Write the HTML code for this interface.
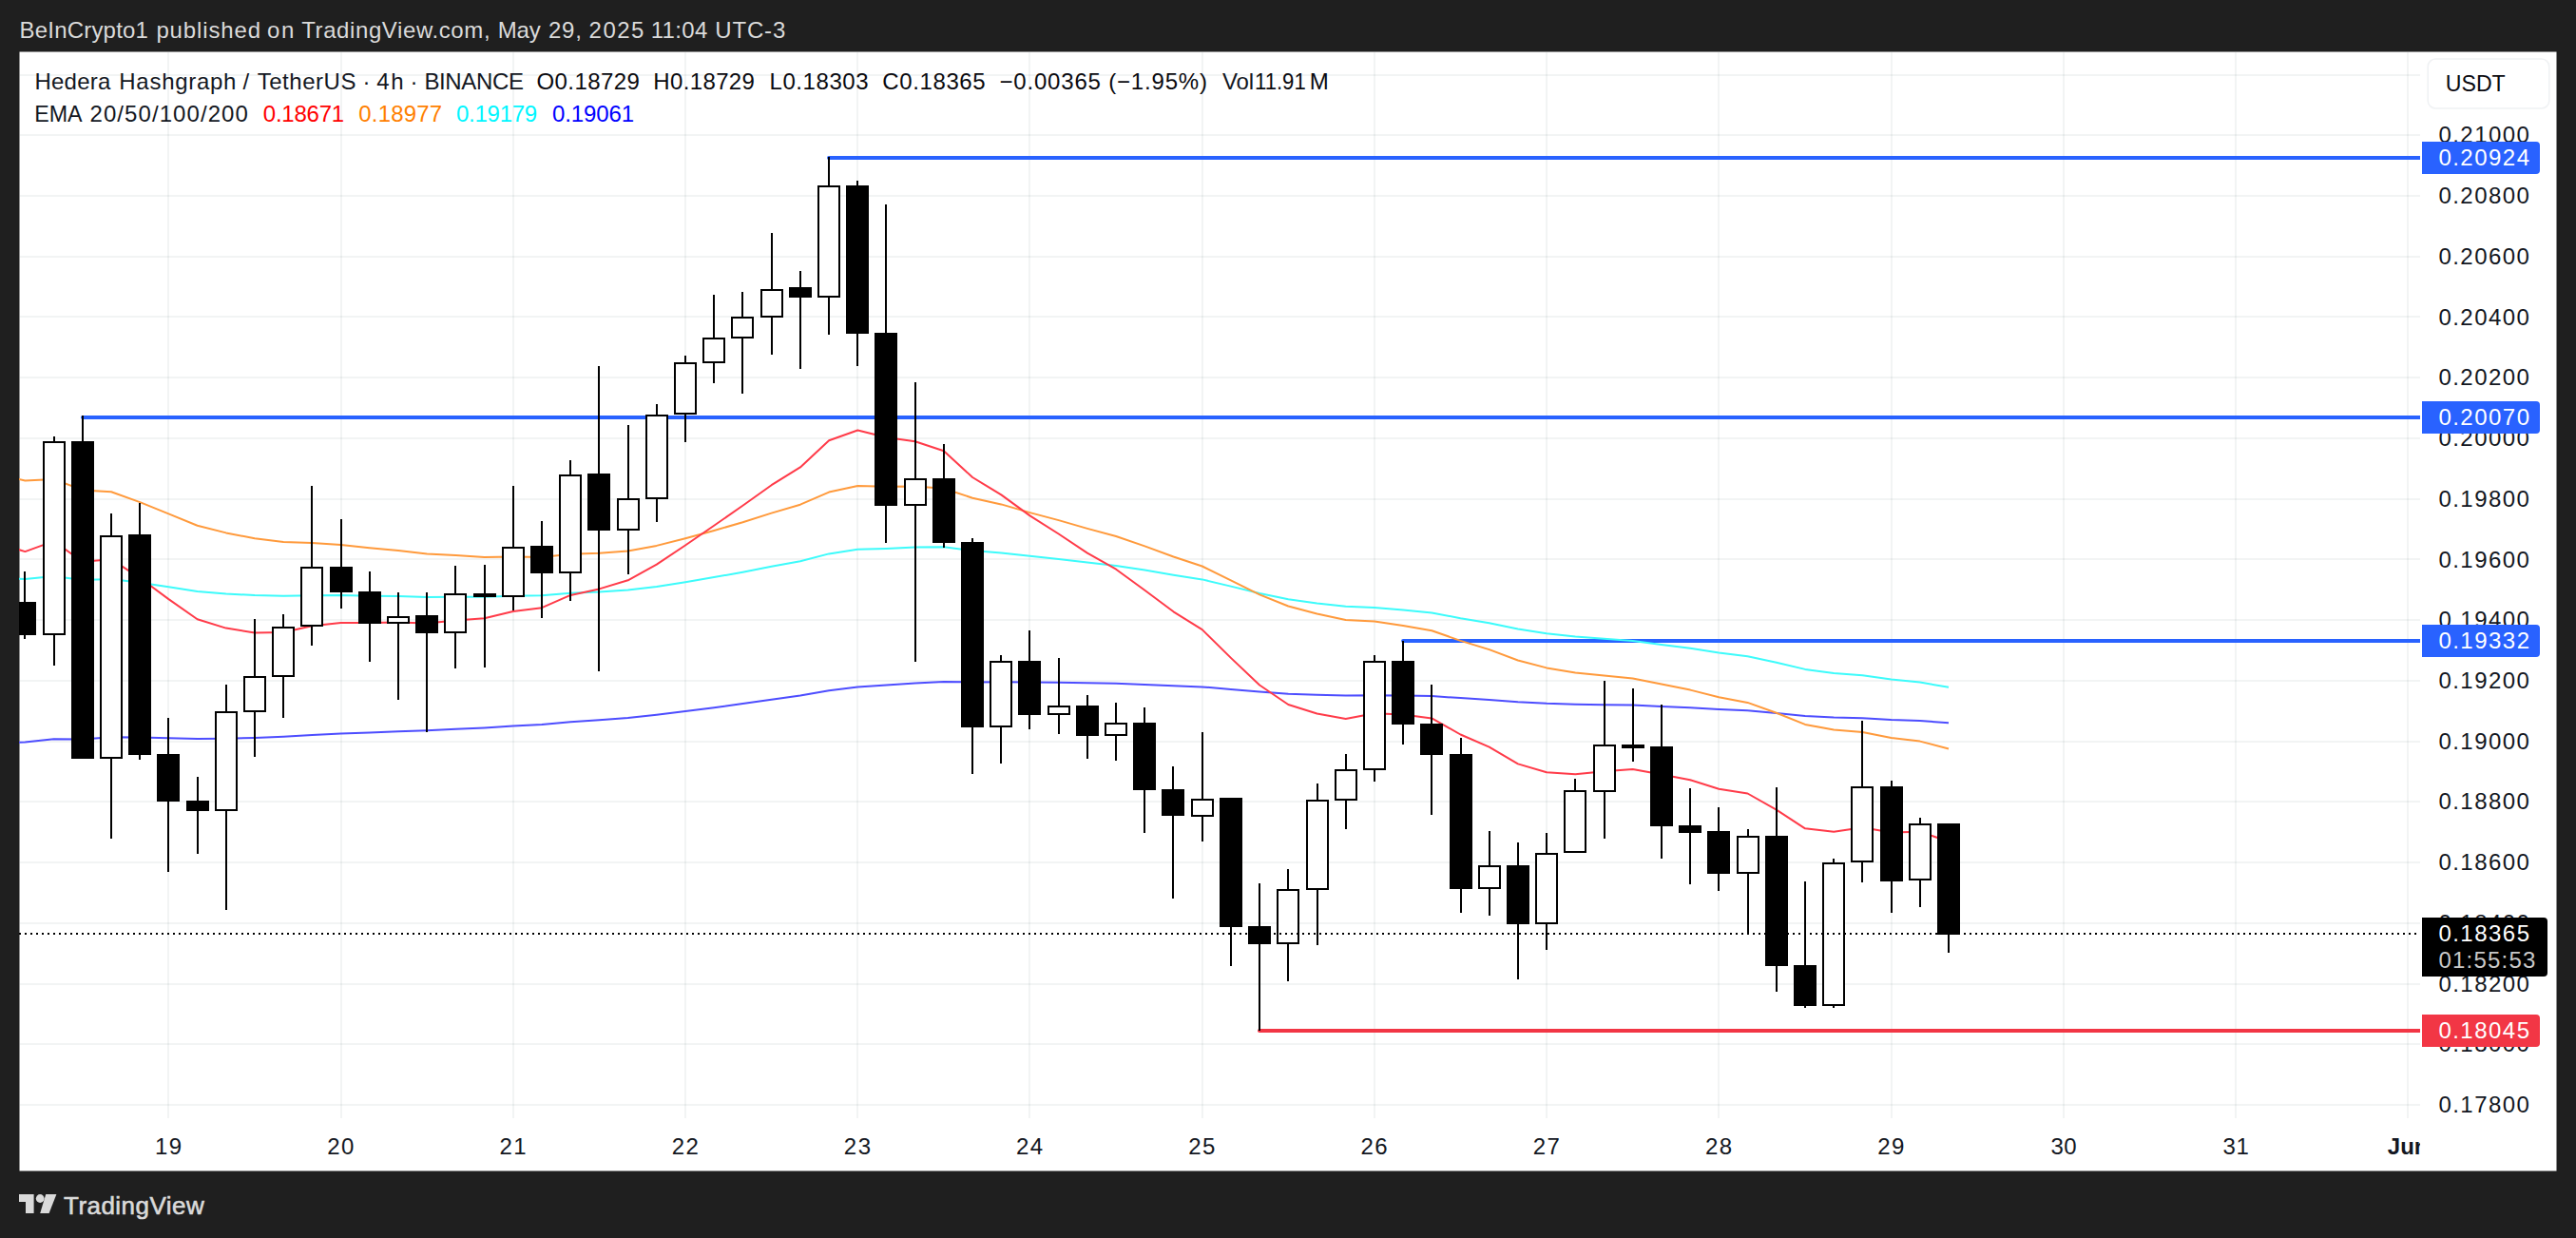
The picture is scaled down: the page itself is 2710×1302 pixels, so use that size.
<!DOCTYPE html><html><head><meta charset="utf-8"><title>HBARUSDT chart</title>
<style>html,body{margin:0;padding:0;background:#1f1f1f}body{width:2710px;height:1302px;overflow:hidden;position:relative}svg{position:absolute;left:0;top:0;display:block}text{font-family:'Liberation Sans', sans-serif;white-space:pre}</style></head><body>
<svg width="2710" height="1302" viewBox="0 0 2710 1302">
<defs><clipPath id="pane"><rect x="20" y="54" width="2526" height="1122"/></clipPath><clipPath id="taxis"><rect x="20" y="1176" width="2526" height="55"/></clipPath></defs>
<rect x="0" y="0" width="2710" height="1302" fill="#1f1f1f"/>
<rect x="20.5" y="54.5" width="2669" height="1177" fill="#ffffff"/>
<g fill="#1e3c3c" fill-opacity="0.06"><rect x="21" y="78" width="2525" height="2"/><rect x="21" y="141" width="2525" height="2"/><rect x="21" y="205" width="2525" height="2"/><rect x="21" y="269" width="2525" height="2"/><rect x="21" y="332" width="2525" height="2"/><rect x="21" y="396" width="2525" height="2"/><rect x="21" y="460" width="2525" height="2"/><rect x="21" y="524" width="2525" height="2"/><rect x="21" y="587" width="2525" height="2"/><rect x="21" y="651" width="2525" height="2"/><rect x="21" y="715" width="2525" height="2"/><rect x="21" y="779" width="2525" height="2"/><rect x="21" y="842" width="2525" height="2"/><rect x="21" y="906" width="2525" height="2"/><rect x="21" y="970" width="2525" height="2"/><rect x="21" y="1034" width="2525" height="2"/><rect x="21" y="1097" width="2525" height="2"/><rect x="21" y="1161" width="2525" height="2"/><rect x="176" y="55" width="2" height="1121"/><rect x="358" y="55" width="2" height="1121"/><rect x="539" y="55" width="2" height="1121"/><rect x="720" y="55" width="2" height="1121"/><rect x="901" y="55" width="2" height="1121"/><rect x="1082" y="55" width="2" height="1121"/><rect x="1264" y="55" width="2" height="1121"/><rect x="1445" y="55" width="2" height="1121"/><rect x="1626" y="55" width="2" height="1121"/><rect x="1807" y="55" width="2" height="1121"/><rect x="1989" y="55" width="2" height="1121"/><rect x="2170" y="55" width="2" height="1121"/><rect x="2351" y="55" width="2" height="1121"/><rect x="2532" y="55" width="2" height="1121"/></g>
<g clip-path="url(#pane)" fill="none" stroke-width="2" stroke-linejoin="round">
<line x1="872.0" y1="166" x2="2546" y2="166" stroke="#2962ff" stroke-width="4" stroke-linecap="round"/>
<line x1="87.0" y1="439" x2="2546" y2="439" stroke="#2962ff" stroke-width="4" stroke-linecap="round"/>
<line x1="1476.1" y1="674" x2="2546" y2="674" stroke="#2962ff" stroke-width="4" stroke-linecap="round"/>
<line x1="1325.0" y1="1084" x2="2546" y2="1084" stroke="#f23645" stroke-width="4" stroke-linecap="round"/>
<polyline stroke="#4d4dff" points="-3.8,781.5 26.4,780.4 56.6,777.3 86.8,777.5 117.0,775.3 147.2,775.5 177.4,776.2 207.6,776.9 237.8,776.7 268.0,776.0 298.2,774.8 328.4,773.1 358.6,771.6 388.8,770.4 419.0,769.2 449.2,768.2 479.4,766.7 509.6,765.4 539.8,763.5 570.0,761.9 600.2,759.3 630.4,757.3 660.6,754.9 690.8,751.8 721.0,748.1 751.2,744.2 781.4,740.1 811.6,735.8 841.9,731.5 872.1,726.2 902.3,722.5 932.5,720.6 962.7,718.4 992.9,716.9 1023.1,717.4 1053.3,717.2 1083.5,717.5 1113.7,717.8 1143.9,718.3 1174.1,718.8 1204.3,719.9 1234.5,721.2 1264.7,722.4 1294.9,724.9 1325.1,727.6 1355.3,729.7 1385.5,730.8 1415.7,731.6 1445.9,731.2 1476.1,731.5 1506.3,732.1 1536.5,734.1 1566.7,735.9 1596.9,738.2 1627.1,739.8 1657.3,740.7 1687.5,741.2 1717.7,741.6 1747.9,742.9 1778.1,744.2 1808.3,745.9 1838.5,747.3 1868.8,749.9 1899.0,753.0 1929.2,754.5 1959.4,755.2 1989.6,757.0 2019.8,758.0 2050.0,760.3"/>
<polyline stroke="#3dfbfb" points="-3.8,607.8 26.4,609.0 56.6,606.1 86.8,609.9 117.0,609.0 147.2,612.7 177.4,617.2 207.6,621.9 237.8,624.4 268.0,626.1 298.2,626.8 328.4,626.2 358.6,626.1 388.8,626.7 419.0,627.1 449.2,627.9 479.4,627.8 509.6,627.8 539.8,626.8 570.0,626.3 600.2,623.8 630.4,622.5 660.6,620.5 690.8,616.9 721.0,612.2 751.2,607.1 781.4,601.7 811.6,595.8 841.9,590.2 872.1,582.4 902.3,577.8 932.5,576.9 962.7,575.4 992.9,575.3 1023.1,579.1 1053.3,581.4 1083.5,584.8 1113.7,587.9 1143.9,591.6 1174.1,594.9 1204.3,599.6 1234.5,604.7 1264.7,609.4 1294.9,616.6 1325.1,624.0 1355.3,630.2 1385.5,634.4 1415.7,637.8 1445.9,639.0 1476.1,641.4 1506.3,644.4 1536.5,650.2 1566.7,655.3 1596.9,661.6 1627.1,666.3 1657.3,669.5 1687.5,671.8 1717.7,674.1 1747.9,677.9 1778.1,681.8 1808.3,686.5 1838.5,690.3 1868.8,696.8 1899.0,703.9 1929.2,707.9 1959.4,710.3 1989.6,714.6 2019.8,717.6 2050.0,722.8"/>
<polyline stroke="#ff9a3c" points="-3.8,498.9 26.4,505.5 56.6,503.9 86.8,515.4 117.0,517.3 147.2,528.1 177.4,540.4 207.6,552.7 237.8,560.4 268.0,566.3 298.2,569.9 328.4,571.0 358.6,573.0 388.8,576.3 419.0,579.1 449.2,582.5 479.4,584.1 509.6,585.9 539.8,585.4 570.0,586.1 600.2,582.7 630.4,581.7 660.6,579.5 690.8,573.9 721.0,566.3 751.2,558.0 781.4,549.2 811.6,539.6 841.9,530.7 872.1,517.6 902.3,511.0 932.5,511.8 962.7,511.5 992.9,513.8 1023.1,523.7 1053.3,530.4 1083.5,539.1 1113.7,547.1 1143.9,555.9 1174.1,564.0 1204.3,574.4 1234.5,585.5 1264.7,595.5 1294.9,610.4 1325.1,625.4 1355.3,637.5 1385.5,645.5 1415.7,651.9 1445.9,653.6 1476.1,657.9 1506.3,663.2 1536.5,673.9 1566.7,683.1 1596.9,694.5 1627.1,702.4 1657.3,707.5 1687.5,710.4 1717.7,713.4 1747.9,719.5 1778.1,725.6 1808.3,733.2 1838.5,738.9 1868.8,749.8 1899.0,761.9 1929.2,767.5 1959.4,769.9 1989.6,776.0 2019.8,779.6 2050.0,787.5"/>
<polyline stroke="#ff3b49" points="-3.8,570.9 26.4,580.1 56.6,569.1 86.8,590.8 117.0,588.2 147.2,607.8 177.4,630.1 207.6,651.3 237.8,660.6 268.0,665.4 298.2,664.9 328.4,658.3 358.6,655.0 388.8,655.1 419.0,654.4 449.2,655.5 479.4,652.5 509.6,650.2 539.8,643.0 570.0,639.2 600.2,625.9 630.4,619.4 660.6,610.3 690.8,593.7 721.0,573.5 751.2,552.7 781.4,531.8 811.6,510.2 841.9,491.4 872.1,463.2 902.3,452.5 932.5,460.0 962.7,464.2 992.9,474.3 1023.1,502.0 1053.3,520.4 1083.5,542.4 1113.7,561.5 1143.9,581.7 1174.1,598.7 1204.3,620.8 1234.5,643.3 1264.7,662.1 1294.9,691.9 1325.1,720.5 1355.3,741.0 1385.5,750.5 1415.7,756.1 1445.9,750.3 1476.1,751.4 1506.3,755.4 1536.5,772.5 1566.7,785.6 1596.9,803.4 1627.1,812.3 1657.3,814.2 1687.5,811.2 1717.7,808.9 1747.9,814.6 1778.1,820.3 1808.3,829.7 1838.5,834.5 1868.8,851.7 1899.0,871.3 1929.2,874.7 1959.4,870.2 1989.6,875.6 2019.8,874.7 2050.0,885.0"/>
</g>
<g clip-path="url(#pane)">
<g fill="#000"><rect x="25" y="601" width="2" height="71"/><rect x="56" y="459" width="2" height="241"/><rect x="86" y="437" width="2" height="361"/><rect x="116" y="540" width="2" height="342"/><rect x="146" y="529" width="2" height="270"/><rect x="176" y="755" width="2" height="162"/><rect x="207" y="817" width="2" height="81"/><rect x="237" y="720" width="2" height="237"/><rect x="267" y="651" width="2" height="145"/><rect x="297" y="646" width="2" height="109"/><rect x="327" y="511" width="2" height="168"/><rect x="358" y="546" width="2" height="94"/><rect x="388" y="601" width="2" height="95"/><rect x="418" y="623" width="2" height="113"/><rect x="448" y="623" width="2" height="147"/><rect x="478" y="595" width="2" height="108"/><rect x="509" y="594" width="2" height="108"/><rect x="539" y="511" width="2" height="131"/><rect x="569" y="548" width="2" height="102"/><rect x="599" y="484" width="2" height="148"/><rect x="629" y="385" width="2" height="321"/><rect x="660" y="447" width="2" height="157"/><rect x="690" y="425" width="2" height="124"/><rect x="720" y="374" width="2" height="91"/><rect x="750" y="310" width="2" height="93"/><rect x="780" y="307" width="2" height="107"/><rect x="811" y="245" width="2" height="128"/><rect x="841" y="285" width="2" height="103"/><rect x="871" y="165" width="2" height="187"/><rect x="901" y="190" width="2" height="195"/><rect x="931" y="215" width="2" height="356"/><rect x="962" y="402" width="2" height="294"/><rect x="992" y="467" width="2" height="109"/><rect x="1022" y="566" width="2" height="248"/><rect x="1052" y="689" width="2" height="114"/><rect x="1082" y="663" width="2" height="104"/><rect x="1113" y="692" width="2" height="80"/><rect x="1143" y="731" width="2" height="67"/><rect x="1173" y="739" width="2" height="61"/><rect x="1203" y="744" width="2" height="132"/><rect x="1233" y="806" width="2" height="139"/><rect x="1264" y="770" width="2" height="115"/><rect x="1294" y="839" width="2" height="177"/><rect x="1324" y="929" width="2" height="155"/><rect x="1354" y="914" width="2" height="118"/><rect x="1385" y="824" width="2" height="170"/><rect x="1415" y="793" width="2" height="79"/><rect x="1445" y="689" width="2" height="133"/><rect x="1475" y="674" width="2" height="109"/><rect x="1505" y="720" width="2" height="137"/><rect x="1536" y="776" width="2" height="184"/><rect x="1566" y="874" width="2" height="89"/><rect x="1596" y="886" width="2" height="144"/><rect x="1626" y="876" width="2" height="123"/><rect x="1656" y="819" width="2" height="78"/><rect x="1687" y="716" width="2" height="166"/><rect x="1717" y="724" width="2" height="77"/><rect x="1747" y="741" width="2" height="162"/><rect x="1777" y="829" width="2" height="101"/><rect x="1807" y="849" width="2" height="88"/><rect x="1838" y="872" width="2" height="111"/><rect x="1868" y="828" width="2" height="215"/><rect x="1898" y="927" width="2" height="133"/><rect x="1928" y="903" width="2" height="157"/><rect x="1958" y="758" width="2" height="170"/><rect x="1989" y="821" width="2" height="139"/><rect x="2019" y="860" width="2" height="94"/><rect x="2049" y="866" width="2" height="136"/></g>
<g fill="#000"><rect x="14" y="633" width="24" height="35"/><rect x="75" y="464" width="24" height="334"/><rect x="135" y="562" width="24" height="232"/><rect x="165" y="793" width="24" height="50"/><rect x="196" y="842" width="24" height="11"/><rect x="347" y="596" width="24" height="27"/><rect x="377" y="622" width="24" height="34"/><rect x="437" y="647" width="24" height="19"/><rect x="498" y="624" width="24" height="4"/><rect x="558" y="574" width="24" height="29"/><rect x="618" y="498" width="24" height="60"/><rect x="830" y="302" width="24" height="11"/><rect x="890" y="195" width="24" height="156"/><rect x="920" y="350" width="24" height="182"/><rect x="981" y="503" width="24" height="68"/><rect x="1011" y="570" width="24" height="195"/><rect x="1071" y="695" width="24" height="57"/><rect x="1132" y="742" width="24" height="32"/><rect x="1192" y="760" width="24" height="71"/><rect x="1222" y="830" width="24" height="28"/><rect x="1283" y="839" width="24" height="136"/><rect x="1313" y="974" width="24" height="19"/><rect x="1464" y="695" width="24" height="67"/><rect x="1494" y="761" width="24" height="33"/><rect x="1525" y="793" width="24" height="142"/><rect x="1585" y="910" width="24" height="62"/><rect x="1706" y="783" width="24" height="4"/><rect x="1736" y="785" width="24" height="84"/><rect x="1766" y="868" width="24" height="8"/><rect x="1796" y="874" width="24" height="45"/><rect x="1857" y="879" width="24" height="137"/><rect x="1887" y="1015" width="24" height="43"/><rect x="1978" y="827" width="24" height="100"/><rect x="2038" y="866" width="24" height="117"/></g>
<g fill="#fff" stroke="#000" stroke-width="2"><rect x="46" y="465" width="22" height="202"/><rect x="106" y="564" width="22" height="233"/><rect x="227" y="749" width="22" height="103"/><rect x="257" y="712" width="22" height="36"/><rect x="287" y="660" width="22" height="51"/><rect x="317" y="597" width="22" height="61"/><rect x="408" y="649" width="22" height="6"/><rect x="468" y="625" width="22" height="40"/><rect x="529" y="576" width="22" height="51"/><rect x="589" y="500" width="22" height="102"/><rect x="650" y="525" width="22" height="32"/><rect x="680" y="437" width="22" height="87"/><rect x="710" y="382" width="22" height="53"/><rect x="740" y="356" width="22" height="25"/><rect x="770" y="334" width="22" height="21"/><rect x="801" y="305" width="22" height="28"/><rect x="861" y="196" width="22" height="116"/><rect x="952" y="504" width="22" height="27"/><rect x="1042" y="696" width="22" height="68"/><rect x="1103" y="743" width="22" height="8"/><rect x="1163" y="761" width="22" height="12"/><rect x="1254" y="841" width="22" height="17"/><rect x="1344" y="936" width="22" height="56"/><rect x="1375" y="842" width="22" height="93"/><rect x="1405" y="810" width="22" height="31"/><rect x="1435" y="696" width="22" height="113"/><rect x="1556" y="911" width="22" height="23"/><rect x="1616" y="898" width="22" height="73"/><rect x="1646" y="832" width="22" height="64"/><rect x="1677" y="784" width="22" height="48"/><rect x="1828" y="880" width="22" height="38"/><rect x="1918" y="908" width="22" height="149"/><rect x="1948" y="828" width="22" height="78"/><rect x="2009" y="867" width="22" height="58"/></g>
<line x1="20" y1="982" x2="2544" y2="982" stroke="#000" stroke-width="2" stroke-dasharray="2 4"/>
</g>
<text x="20.50" y="39.80" font-size="24" fill="#dadada" letter-spacing="0.204">BeInCrypto1</text>
<text x="164.40" y="39.80" font-size="24" fill="#dadada" letter-spacing="0.875">published</text>
<text x="281.00" y="39.80" font-size="24" fill="#dadada" letter-spacing="1.752">on</text>
<text x="317.20" y="39.80" font-size="24" fill="#dadada" letter-spacing="0.596">TradingView.com,</text>
<text x="523.70" y="39.80" font-size="24" fill="#dadada" letter-spacing="-0.170">May</text>
<text x="577.00" y="39.80" font-size="24" fill="#dadada" letter-spacing="0.752">29,</text>
<text x="619.60" y="39.80" font-size="24" fill="#dadada" letter-spacing="1.486">2025</text>
<text x="684.70" y="39.80" font-size="24" fill="#dadada" letter-spacing="0.318">11:04</text>
<text x="752.30" y="39.80" font-size="24" fill="#dadada" letter-spacing="0.821">UTC-3</text>
<text x="36.40" y="94.10" font-size="24" fill="#131722" letter-spacing="0.247">Hedera</text>
<text x="125.30" y="94.10" font-size="24" fill="#131722" letter-spacing="0.717">Hashgraph</text>
<text x="255.50" y="94.10" font-size="24" fill="#131722" letter-spacing="0.000">/</text>
<text x="270.70" y="94.10" font-size="24" fill="#131722" letter-spacing="0.538">TetherUS</text>
<text x="381.40" y="94.10" font-size="24" fill="#131722" letter-spacing="0.000">·</text>
<text x="396.30" y="94.10" font-size="24" fill="#131722" letter-spacing="1.652">4h</text>
<text x="431.50" y="94.10" font-size="24" fill="#131722" letter-spacing="0.000">·</text>
<text x="446.40" y="94.10" font-size="24" fill="#131722" letter-spacing="-0.347">BINANCE</text>
<text x="564.50" y="94.10" font-size="24" fill="#0a0a0f" letter-spacing="0.418">O0.18729</text>
<text x="687.20" y="94.10" font-size="24" fill="#0a0a0f" letter-spacing="0.380">H0.18729</text>
<text x="809.50" y="94.10" font-size="24" fill="#0a0a0f" letter-spacing="0.564">L0.18303</text>
<text x="928.30" y="94.10" font-size="24" fill="#0a0a0f" letter-spacing="0.609">C0.18365</text>
<text x="1051.40" y="94.10" font-size="24" fill="#0a0a0f" letter-spacing="0.819">−0.00365 (−1.95%)</text>
<text x="1286.00" y="94.10" font-size="24" fill="#131722" letter-spacing="-0.116">Vol</text>
<text transform="translate(1319.98 94.10) scale(0.9222 1)" font-size="24" fill="#0a0a0f">11.91</text>
<text x="1377.80" y="94.10" font-size="24" fill="#0a0a0f" letter-spacing="0.000">M</text>
<text transform="translate(36.23 127.90) scale(0.9686 1)" font-size="24" fill="#131722">EMA</text>
<text x="94.50" y="127.90" font-size="24" fill="#131722" letter-spacing="1.072">20/50/100/200</text>
<text x="276.80" y="127.90" font-size="24" fill="#ff0000" letter-spacing="-0.234">0.18671</text>
<text x="377.30" y="127.90" font-size="24" fill="#ff7f00" letter-spacing="0.182">0.18977</text>
<text x="480.00" y="127.90" font-size="24" fill="#00f6ff" letter-spacing="-0.268">0.19179</text>
<text x="581.10" y="127.90" font-size="24" fill="#0000ff" letter-spacing="-0.134">0.19061</text>
<text transform="translate(2572.74 95.80) scale(0.9649 1)" font-size="24" fill="#0a0a0f">USDT</text>
<text x="2565.40" y="150.40" font-size="24" fill="#131722" letter-spacing="1.466">0.21000</text>
<text x="2565.40" y="214.13" font-size="24" fill="#131722" letter-spacing="1.466">0.20800</text>
<text x="2565.40" y="277.86" font-size="24" fill="#131722" letter-spacing="1.466">0.20600</text>
<text x="2565.40" y="341.59" font-size="24" fill="#131722" letter-spacing="1.466">0.20400</text>
<text x="2565.40" y="405.32" font-size="24" fill="#131722" letter-spacing="1.466">0.20200</text>
<text x="2565.40" y="469.05" font-size="24" fill="#131722" letter-spacing="1.466">0.20000</text>
<text x="2565.40" y="532.78" font-size="24" fill="#131722" letter-spacing="1.466">0.19800</text>
<text x="2565.40" y="596.51" font-size="24" fill="#131722" letter-spacing="1.466">0.19600</text>
<text x="2565.40" y="660.24" font-size="24" fill="#131722" letter-spacing="1.466">0.19400</text>
<text x="2565.40" y="723.97" font-size="24" fill="#131722" letter-spacing="1.466">0.19200</text>
<text x="2565.40" y="787.70" font-size="24" fill="#131722" letter-spacing="1.466">0.19000</text>
<text x="2565.40" y="851.43" font-size="24" fill="#131722" letter-spacing="1.466">0.18800</text>
<text x="2565.40" y="915.16" font-size="24" fill="#131722" letter-spacing="1.466">0.18600</text>
<text x="2565.40" y="978.89" font-size="24" fill="#131722" letter-spacing="1.466">0.18400</text>
<text x="2565.40" y="1042.62" font-size="24" fill="#131722" letter-spacing="1.466">0.18200</text>
<text x="2565.40" y="1106.35" font-size="24" fill="#131722" letter-spacing="1.466">0.18000</text>
<text x="2565.40" y="1170.08" font-size="24" fill="#131722" letter-spacing="1.466">0.17800</text>
<rect x="2554.2" y="62" width="127.6" height="52" rx="8" ry="8" fill="none" stroke="#f0f2f4" stroke-width="1.6"/>
<path d="M2548 149 H2668 Q2672 149 2672 153 V179 Q2672 183 2668 183 H2548 Z" fill="#2962ff"/>
<path d="M2548 422 H2668 Q2672 422 2672 426 V452 Q2672 456 2668 456 H2548 Z" fill="#2962ff"/>
<path d="M2548 657 H2668 Q2672 657 2672 661 V687 Q2672 691 2668 691 H2548 Z" fill="#2962ff"/>
<path d="M2548 1067 H2668 Q2672 1067 2672 1071 V1097 Q2672 1101 2668 1101 H2548 Z" fill="#f23645"/>
<path d="M2548 965 H2676 Q2680 965 2680 969 V1023 Q2680 1027 2676 1027 H2548 Z" fill="#000000"/>
<text x="2565.40" y="173.80" font-size="24" fill="#ffffff" letter-spacing="1.482">0.20924</text>
<text x="2565.40" y="446.80" font-size="24" fill="#ffffff" letter-spacing="1.482">0.20070</text>
<text x="2565.40" y="681.80" font-size="24" fill="#ffffff" letter-spacing="1.482">0.19332</text>
<text x="2565.40" y="1091.80" font-size="24" fill="#ffffff" letter-spacing="1.482">0.18045</text>
<text x="2565.40" y="990.30" font-size="24" fill="#ffffff" letter-spacing="1.482">0.18365</text>
<text x="2565.40" y="1018.20" font-size="24" fill="#c9c9c9" letter-spacing="1.218">01:55:53</text>
<text x="162.98" y="1214.30" font-size="24" fill="#131722" letter-spacing="1.452">19</text>
<text x="344.20" y="1214.30" font-size="24" fill="#131722" letter-spacing="1.452">20</text>
<text x="525.42" y="1214.30" font-size="24" fill="#131722" letter-spacing="1.452">21</text>
<text x="706.64" y="1214.30" font-size="24" fill="#131722" letter-spacing="1.452">22</text>
<text x="887.86" y="1214.30" font-size="24" fill="#131722" letter-spacing="1.452">23</text>
<text x="1069.07" y="1214.30" font-size="24" fill="#131722" letter-spacing="1.452">24</text>
<text x="1250.29" y="1214.30" font-size="24" fill="#131722" letter-spacing="1.452">25</text>
<text x="1431.51" y="1214.30" font-size="24" fill="#131722" letter-spacing="1.452">26</text>
<text x="1612.73" y="1214.30" font-size="24" fill="#131722" letter-spacing="1.452">27</text>
<text x="1793.95" y="1214.30" font-size="24" fill="#131722" letter-spacing="1.452">28</text>
<text x="1975.16" y="1214.30" font-size="24" fill="#131722" letter-spacing="1.452">29</text>
<text x="2157.38" y="1214.30" font-size="24" fill="#131722" letter-spacing="0.452">30</text>
<text x="2338.60" y="1214.30" font-size="24" fill="#131722" letter-spacing="0.452">31</text>
<text x="67.00" y="1276.90" font-size="26" fill="#dadada" letter-spacing="0.460" stroke="#dadada" stroke-width="0.6">TradingView</text>
<g clip-path="url(#taxis)"><text x="2511.8" y="1214.3" font-size="24" font-weight="bold" fill="#131722">Jun</text></g>
<g fill="#dadada"><path d="M20 1256 H35.6 V1276 H27 V1264 H20 Z"/><circle cx="42.2" cy="1260.5" r="4.4"/><path d="M48.2 1256 H59.4 L51.6 1276 H42.2 Z"/></g>
</svg></body></html>
